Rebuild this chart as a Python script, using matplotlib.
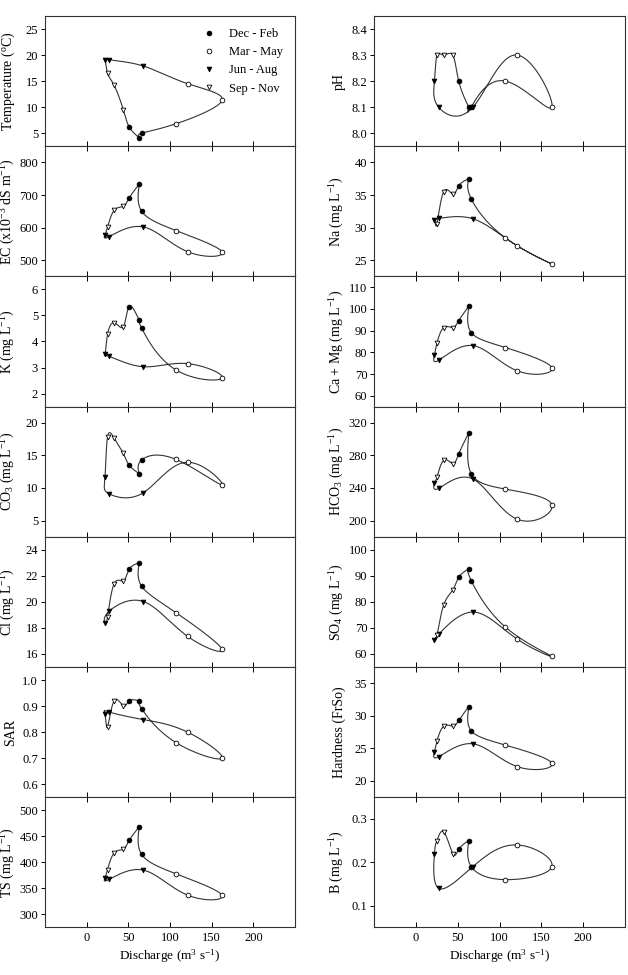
import numpy as np
import matplotlib
matplotlib.use("Agg")
import matplotlib.pyplot as plt
from matplotlib.lines import Line2D
from matplotlib.ticker import FormatStrFormatter

plt.rcParams['font.family'] = ['Liberation Serif', 'DejaVu Serif']
plt.rcParams['mathtext.fontset'] = 'custom'
plt.rcParams['mathtext.rm'] = 'Liberation Serif'
plt.rcParams['mathtext.it'] = 'Liberation Serif:italic'

# monthly values, Jan ... Dec
months = ['Jan', 'Feb', 'Mar', 'Apr', 'May', 'Jun', 'Jul', 'Aug', 'Sep', 'Oct', 'Nov', 'Dec']
discharge = [63, 66, 107, 162.5, 121, 68, 27, 22, 25, 33, 44, 51]

temperature = [4.1, 5.0, 6.8, 11.3, 14.5, 17.9, 19.1, 19.1, 16.5, 14.2, 9.5, 6.2]
ec = [733, 650, 591, 525, 526, 602, 572, 578, 601, 653, 665, 691]
k = [4.82, 4.52, 2.91, 2.6, 3.15, 3.03, 3.43, 3.51, 4.27, 4.72, 4.57, 5.34]
co3 = [12.2, 14.3, 14.4, 10.5, 13.95, 9.27, 9.1, 11.7, 17.8, 17.66, 15.3, 13.5]
cl = [23.0, 21.2, 19.18, 16.36, 17.36, 20.03, 19.28, 18.4, 18.85, 21.4, 21.6, 22.5]
sar = [0.92, 0.89, 0.76, 0.70, 0.80, 0.848, 0.877, 0.869, 0.82, 0.92, 0.90, 0.92]
ts = [468, 415, 378, 336.5, 337, 385, 367, 370, 386, 418, 425, 442]

ph = [8.1, 8.1, 8.2, 8.1, 8.3, 8.1, 8.1, 8.2, 8.3, 8.3, 8.3, 8.2]
na = [37.5, 34.4, 28.4, 24.4, 27.2, 31.35, 31.4, 31.2, 30.6, 35.5, 35.1, 36.4]
camg = [101.2, 89.1, 82.2, 72.9, 71.5, 83.1, 76.3, 78.8, 84.3, 91.4, 91.4, 94.6]
hco3 = [307.7, 257.5, 238.6, 219.3, 201.6, 251, 239.4, 246, 253, 274, 270, 281.8]
so4 = [92.7, 88.2, 70.3, 59.1, 65.7, 76.1, 67.5, 65.4, 67.2, 78.8, 84.6, 89.5]
hardness = [31.4, 27.7, 25.5, 22.7, 22.2, 25.7, 23.7, 24.5, 26.15, 28.4, 28.4, 29.3]
boron = [0.25, 0.19, 0.16, 0.19, 0.24, 0.19, 0.14, 0.22, 0.25, 0.27, 0.22, 0.23]

seasons = ['Dec - Feb', 'Mar - May', 'Jun - Aug', 'Sep - Nov']
season_idx = [[11, 0, 1], [2, 3, 4], [5, 6, 7], [8, 9, 10]]
season_marker = ['o', 'o', 'v', 'v']
season_face = ['black', 'white', 'black', 'white']

left_panels = [
    (temperature, 'Temperature ($^{\\rm o}$C)', (2.5, 27.5), [5, 10, 15, 20, 25], '%d'),
    (ec, 'EC (x10$^{-3}$ dS m$^{-1}$)', (450, 850), [500, 600, 700, 800], '%d'),
    (k, 'K (mg L$^{-1}$)', (1.5, 6.5), [2, 3, 4, 5, 6], '%d'),
    (co3, 'CO$_3$ (mg L$^{-1}$)', (2.5, 22.5), [5, 10, 15, 20], '%d'),
    (cl, 'Cl (mg L$^{-1}$)', (15, 25), [16, 18, 20, 22, 24], '%d'),
    (sar, 'SAR', (0.55, 1.05), [0.6, 0.7, 0.8, 0.9, 1.0], '%.1f'),
    (ts, 'TS (mg L$^{-1}$)', (275, 525), [300, 350, 400, 450, 500], '%d'),
]
right_panels = [
    (ph, 'pH', (7.95, 8.45), [8.0, 8.1, 8.2, 8.3, 8.4], '%.1f'),
    (na, 'Na (mg L$^{-1}$)', (22.5, 42.5), [25, 30, 35, 40], '%d'),
    (camg, 'Ca + Mg (mg L$^{-1}$)', (55, 115), [60, 70, 80, 90, 100, 110], '%d'),
    (hco3, 'HCO$_3$ (mg L$^{-1}$)', (180, 340), [200, 240, 280, 320], '%d'),
    (so4, 'SO$_4$ (mg L$^{-1}$)', (55, 105), [60, 70, 80, 90, 100], '%d'),
    (hardness, 'Hardness (FrSo)', (17.5, 37.5), [20, 25, 30, 35], '%d'),
    (boron, 'B (mg L$^{-1}$)', (0.05, 0.35), [0.1, 0.2, 0.3], '%.1f'),
]
x_ticks = [0, 50, 100, 150, 200]


def natural_spline(v, n=40):
    # natural cubic spline through v, parameterised by point index
    v = np.asarray(v, float)
    m = len(v)
    A = np.zeros((m, m))
    r = np.zeros(m)
    A[0, 0] = A[-1, -1] = 1
    for i in range(1, m - 1):
        A[i, i - 1], A[i, i], A[i, i + 1] = 1, 4, 1
        r[i] = 6 * (v[i + 1] - 2 * v[i] + v[i - 1])
    M = np.linalg.solve(A, r)
    out = []
    for i in range(m - 1):
        t = np.linspace(0, 1, n, endpoint=False)
        seg = ((1 - t) * v[i] + t * v[i + 1]
               + ((1 - t) ** 3 - (1 - t)) * M[i] / 6 + (t ** 3 - t) * M[i + 1] / 6)
        out.append(seg)
    out.append([v[-1]])
    return np.concatenate(out)


def draw(ax, values, label, ylim, yticks, fmt):
    xs = discharge + discharge[:1]
    ys = list(values) + list(values[:1])
    ax.plot(natural_spline(xs), natural_spline(ys), color='#333333', lw=0.8, zorder=2)
    for idx, mk, fc in zip(season_idx, season_marker, season_face):
        ax.plot([discharge[i] for i in idx], [values[i] for i in idx], ls='none',
                marker=mk, ms=3.4, mfc=fc, mec='black', mew=0.6, zorder=3)
    ax.set_xlim(-50, 250)
    ax.set_ylim(*ylim)
    ax.set_yticks(yticks)
    ax.yaxis.set_major_formatter(FormatStrFormatter(fmt))
    ax.set_xticks(x_ticks)
    ax.set_ylabel(label, fontsize=10)
    ax.yaxis.set_label_coords(-0.112, 0.5)
    ax.tick_params(axis='y', direction='out', length=3, width=0.7, labelsize=9, pad=2)
    ax.tick_params(axis='x', direction='in', length=3.5, width=0.7, labelsize=9, top=True)
    for s in ax.spines.values():
        s.set_linewidth(0.8)
        s.set_color('#333333')


fig = plt.figure(figsize=(6.28, 9.75), dpi=100)
W, H = 628.0, 975.0
top, ph_ = 16.0, 130.2
for col, (x0, w, panels) in enumerate([(45.0, 250.0, left_panels), (374.3, 250.7, right_panels)]):
    for row, p in enumerate(panels):
        y0 = H - (top + (row + 1) * ph_)
        ax = fig.add_axes([x0 / W, y0 / H, w / W, ph_ / H])
        draw(ax, *p)
        if row == 0:
            ax.tick_params(axis='x', top=False)
        if row < len(panels) - 1:
            ax.tick_params(axis='x', labelbottom=False)
        else:
            ax.set_xticklabels([str(t) for t in x_ticks])
            ax.set_xlabel('Discharge (m$^3$ s$^{-1}$)', fontsize=9.5, labelpad=2)
        if col == 0 and row == 0:
            handles = [Line2D([], [], ls='none', marker=mk, ms=3.4, mfc=fc, mec='black', mew=0.6)
                       for mk, fc in zip(season_marker, season_face)]
            ax.legend(handles, seasons, loc='upper right', frameon=False, fontsize=9,
                      handlelength=1.2, handletextpad=1.0, labelspacing=0.5,
                      borderaxespad=0.55)

fig.savefig('out.png', dpi=100)
